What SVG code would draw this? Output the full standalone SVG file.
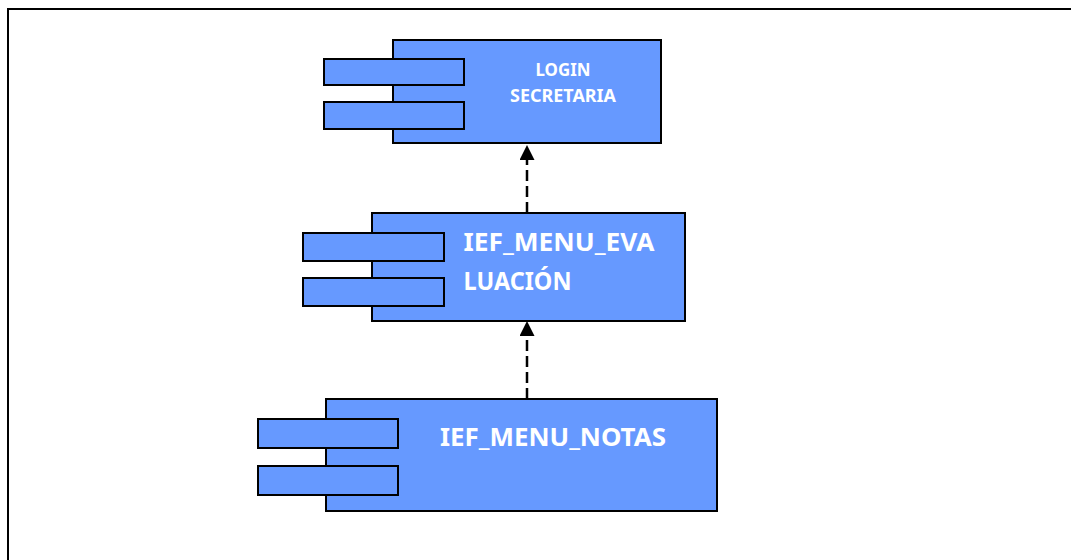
<svg xmlns="http://www.w3.org/2000/svg" width="1071" height="560" viewBox="0 0 1071 560">
  <style>
    .body { fill: #6699ff; stroke: #000; stroke-width: 2; }
    .port { fill: #6699ff; stroke: #000; stroke-width: 2; }
    .lbl { fill: #ffffff; font-family: "Noto Sans", "Open Sans", sans-serif; font-weight: bold; }
    .dep { fill: none; stroke: #000; stroke-width: 2.5; stroke-dasharray: 11 5; }
  </style>
  <defs>
    <!-- filled arrowhead placed beyond the end of the dashed line -->
    <marker id="head" viewBox="0 0 15 15" refX="0" refY="7.5" markerWidth="15" markerHeight="15" markerUnits="userSpaceOnUse" orient="auto">
      <path d="M0,0 L15,7.5 L0,15 Z" fill="#000"/>
    </marker>
  </defs>

  <rect x="0" y="0" width="1071" height="560" fill="#ffffff"/>
  <!-- page frame -->
  <rect x="8" y="9" width="1080" height="570" fill="none" stroke="#000" stroke-width="2"/>

  <g id="login-secretaria">
    <rect class="body" x="393" y="40" width="268" height="103"/>
    <rect class="port" x="324" y="59" width="140" height="26"/>
    <rect class="port" x="324" y="102" width="140" height="27"/>
    <text class="lbl" x="563" y="75.5" font-size="17.5" text-anchor="middle" textLength="55" lengthAdjust="spacingAndGlyphs">LOGIN</text>
    <text class="lbl" x="563" y="101.5" font-size="17.5" text-anchor="middle" textLength="106" lengthAdjust="spacingAndGlyphs">SECRETARIA</text>
  </g>

  <g id="ief-menu-evaluacion">
    <rect class="body" x="372" y="213" width="313" height="108"/>
    <rect class="port" x="303" y="233" width="141" height="28"/>
    <rect class="port" x="303" y="278" width="141" height="28"/>
    <text class="lbl" x="463.5" y="251" font-size="25.5" textLength="191" lengthAdjust="spacingAndGlyphs">IEF_MENU_EVA</text>
    <text class="lbl" x="463.5" y="290" font-size="25.5" textLength="108" lengthAdjust="spacingAndGlyphs">LUACIÓN</text>
  </g>

  <g id="ief-menu-notas">
    <rect class="body" x="326" y="399" width="391" height="112"/>
    <rect class="port" x="258" y="419" width="140" height="29"/>
    <rect class="port" x="258" y="466" width="140" height="29"/>
    <text class="lbl" x="440" y="446" font-size="25.5" textLength="226" lengthAdjust="spacingAndGlyphs">IEF_MENU_NOTAS</text>
  </g>

  <g id="connectors">
    <path class="dep" d="M527,213 L527,160" marker-end="url(#head)"/>
    <path class="dep" d="M527,399 L527,336" marker-end="url(#head)"/>
  </g>
</svg>
